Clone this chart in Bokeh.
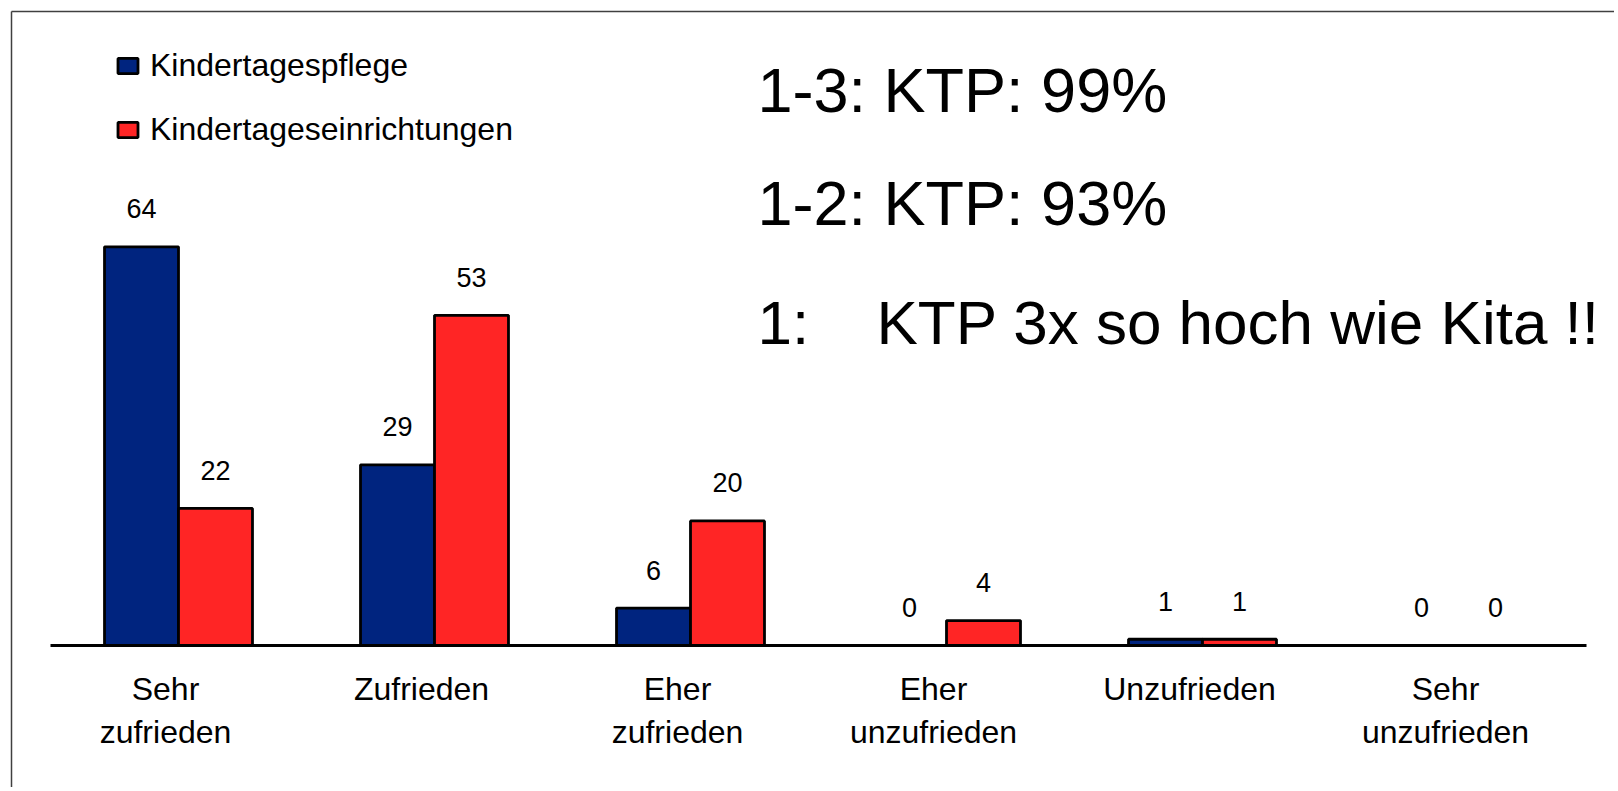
from bokeh.plotting import figure
from bokeh.models import Range1d, Label, Legend, LegendItem, ColumnDataSource
from bokeh.core.properties import value
from bokeh.embed import file_html
from bokeh.resources import INLINE

# ---------------- data ----------------
categories = ["Sehr\nzufrieden", "Zufrieden", "Eher\nzufrieden",
              "Eher\nunzufrieden", "Unzufrieden", "Sehr\nunzufrieden"]
series_names = ["Kindertagespflege", "Kindertageseinrichtungen"]
ktp_values = [64, 29, 6, 0, 1, 0]
kita_values = [22, 53, 20, 4, 1, 0]
notes = ["1-3: KTP: 99%", "1-2: KTP: 93%", "1:", "KTP 3x so hoch wie Kita !!"]

# ---------------- styles / layout ----------------
FONT = "Liberation Sans"
BLUE = "#00247f"
RED = "#ff2525"
W, H = 1614, 787
PX_PER_CAT = 256.0      # pixels per category slot
PX_PER_UNIT = 6.23      # pixels per value unit
FIRST_CENTER_PX = 178   # screen x of first category centre
BASE_PX = 645           # screen y (from top) of value 0
BORDER_PX = 11          # slide frame offset
BAR_W = 0.289

x_start = -FIRST_CENTER_PX / PX_PER_CAT
x_end = (W - FIRST_CENTER_PX) / PX_PER_CAT
y_end = BASE_PX / PX_PER_UNIT
y_start = -(H - BASE_PX) / PX_PER_UNIT

p = figure(width=W, height=H, x_range=Range1d(x_start, x_end),
           y_range=Range1d(y_start, y_end), min_border=0,
           x_axis_location=None, y_axis_location=None,
           toolbar_location=None, output_backend="svg",
           outline_line_color=None)
p.grid.visible = False
p.background_fill_color = "white"
p.border_fill_color = "white"

idx = list(range(len(categories)))
src = ColumnDataSource(dict(
    cx=idx,
    cat=categories,
    x1=[i - BAR_W / 2 for i in idx],
    x2=[i + BAR_W / 2 for i in idx],
    ktp=ktp_values,
    kita=kita_values,
    ktp_lbl=[str(v) for v in ktp_values],
    kita_lbl=[str(v) for v in kita_values],
))

r1 = p.vbar(x="x1", top="ktp", bottom=0, width=BAR_W, source=src,
            fill_color=BLUE, line_color="black", line_width=2.8)
r2 = p.vbar(x="x2", top="kita", bottom=0, width=BAR_W, source=src,
            fill_color=RED, line_color="black", line_width=2.8)

# baseline (category axis line)
p.segment(x0=[-0.5], x1=[len(categories) - 0.5], y0=[0], y1=[0],
          line_color="black", line_width=3)

# value labels
for col, ycol, lbl in (("x1", "ktp", "ktp_lbl"), ("x2", "kita", "kita_lbl")):
    p.text(x=col, y=ycol, text=lbl, source=src, text_align="center",
           text_baseline="alphabetic", y_offset=-38,
           text_font=value(FONT), text_font_size="27px", text_color="black")

# category labels
p.text(x="cx", y=0, text="cat", source=src, text_align="center",
       text_baseline="top", x_offset=-13, y_offset=25,
       text_font=value(FONT), text_font_size="32px", text_line_height=1.22,
       text_color="black")

# slide frame (left and top edge)
bx = x_start + BORDER_PX / PX_PER_CAT
by = y_end - BORDER_PX / PX_PER_UNIT
p.segment(x0=[bx, bx], y0=[by, by], x1=[bx, x_end], y1=[y_start, by],
          line_color="#404040", line_width=1.5)

# notes
def note(x, y_top, text, size):
    p.add_layout(Label(x=x, y=H - y_top, text=text, x_units="screen",
                       y_units="screen", text_font=FONT,
                       text_font_size=size, text_baseline="alphabetic",
                       text_color="black"))

note(757, 89, notes[0], "63px")
note(757, 202, notes[1], "63px")
note(757, 322, notes[2], "62px")
note(876, 322, notes[3], "62px")

legend = Legend(items=[LegendItem(label=series_names[0], renderers=[r1]),
                       LegendItem(label=series_names[1], renderers=[r2])],
                location=(115, H - 33.5 - 128), orientation="vertical",
                glyph_width=25, glyph_height=19, label_standoff=10,
                label_height=64, spacing=0, padding=0, margin=0,
                border_line_color=None, background_fill_alpha=0,
                label_text_font=FONT, label_text_font_size="32px",
                label_text_baseline="middle", label_text_color="black")
p.add_layout(legend)

open("out.html", "w").write(file_html(p, INLINE))
